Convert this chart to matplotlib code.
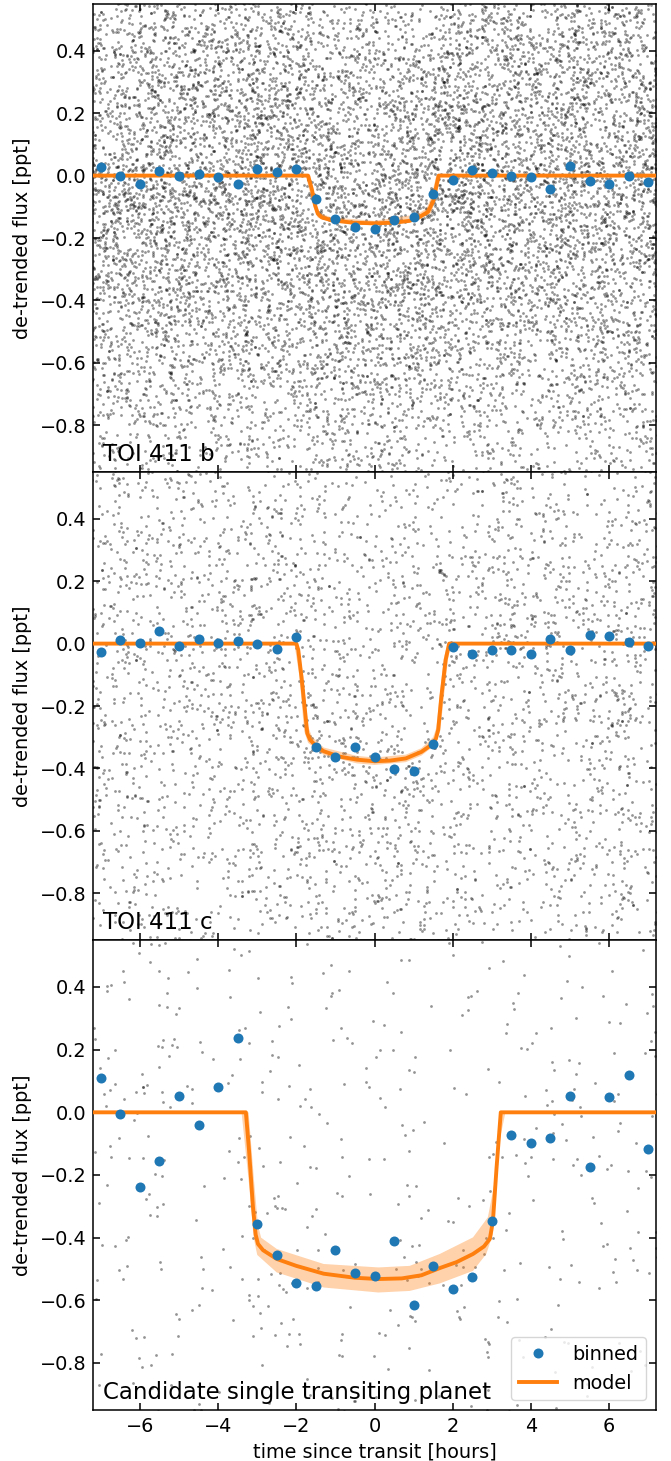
import numpy as np
import matplotlib
matplotlib.use("Agg")
import matplotlib.pyplot as plt
from matplotlib.lines import Line2D

# ---------------------------------------------------------------------------
# Binned light-curve points (time since transit in hours, flux in ppt)
# ---------------------------------------------------------------------------
bin_time = [-7.0, -6.5, -6.0, -5.5, -5.0, -4.5, -4.0, -3.5, -3.0, -2.5,
            -2.0, -1.5, -1.0, -0.5, 0.0, 0.5, 1.0, 1.5, 2.0, 2.5,
            3.0, 3.5, 4.0, 4.5, 5.0, 5.5, 6.0, 6.5, 7.0]

binned_b = [0.027, 0.000, -0.027, 0.015, -0.002, 0.004, -0.006, -0.026, 0.022, 0.012,
            0.020, -0.076, -0.139, -0.164, -0.170, -0.142, -0.133, -0.058, -0.014, 0.018,
            0.008, 0.000, -0.003, -0.042, 0.030, -0.017, -0.028, -0.002, -0.020]

binned_c = [-0.028, 0.011, 0.003, 0.040, -0.008, 0.016, 0.003, 0.009, -0.002, -0.017,
            0.020, -0.330, -0.365, -0.330, -0.362, -0.402, -0.408, -0.323, -0.011, -0.033,
            -0.020, -0.022, -0.033, 0.014, -0.022, 0.029, 0.024, 0.005, -0.009]

binned_single = [0.109, -0.005, -0.237, -0.154, 0.053, -0.040, 0.081, 0.236, -0.357, -0.455,
                 -0.545, -0.554, -0.440, -0.514, -0.523, -0.411, -0.615, -0.491, -0.564, -0.527,
                 -0.348, -0.072, -0.097, -0.082, 0.052, -0.173, 0.049, 0.120, -0.117]

# ---------------------------------------------------------------------------
# Transit models (median curve) and their credible bands
# ---------------------------------------------------------------------------
model_b_t = [-7.2, -1.70, -1.60, -1.52, -1.45, -1.35, -1.10, -0.55, 0.0, 0.5, 0.9, 1.16,
             1.37, 1.50, 1.59, 1.64, 7.2]
model_b_f = [0.0, 0.0, -0.045, -0.095, -0.122, -0.134, -0.143, -0.151, -0.153, -0.151, -0.145, -0.132,
             -0.116, -0.082, -0.029, 0.0, 0.0]

band_b_lo_t = [-7.2, -1.76, -1.56, -1.45, -1.10, 0.0, 1.16, 1.45, 1.56, 1.70, 7.2]
band_b_lo_f = [0.0, 0.0, -0.100, -0.135, -0.150, -0.160, -0.140, -0.120, -0.080, 0.0, 0.0]
band_b_hi_t = [-7.2, -1.64, -1.50, -1.40, -1.10, 0.0, 1.10, 1.33, 1.45, 1.58, 7.2]
band_b_hi_f = [0.0, 0.0, -0.090, -0.120, -0.134, -0.145, -0.124, -0.105, -0.070, 0.0, 0.0]

model_c_t = [-7.2, -2.00, -1.95, -1.87, -1.78, -1.72, -1.65, -1.50, -1.30, -0.90, -0.45, 0.0,
             0.40, 0.80, 1.20, 1.45, 1.57, 1.63, 1.71, 1.82, 1.91, 7.2]
model_c_f = [0.0, 0.0, -0.020, -0.105, -0.212, -0.287, -0.308, -0.328, -0.345, -0.362, -0.372, -0.377,
             -0.375, -0.368, -0.347, -0.325, -0.305, -0.276, -0.169, -0.052, 0.0, 0.0]

band_c_lo_t = [-7.2, -2.05, -1.92, -1.80, -1.70, -1.30, -0.45, 0.0, 0.80, 1.20, 1.55, 1.68, 1.88, 1.96, 7.2]
band_c_lo_f = [0.0, 0.0, -0.105, -0.280, -0.318, -0.357, -0.384, -0.389, -0.380, -0.359, -0.325, -0.280, -0.050, 0.0, 0.0]
band_c_hi_t = [-7.2, -1.95, -1.82, -1.70, -1.60, -1.30, -0.45, 0.0, 0.80, 1.20, 1.50, 1.58, 1.77, 1.86, 7.2]
band_c_hi_f = [0.0, 0.0, -0.105, -0.265, -0.298, -0.333, -0.360, -0.365, -0.356, -0.335, -0.300, -0.270, -0.050, 0.0, 0.0]

model_s_t = [-7.2, -3.29, -3.21, -3.11, -3.04, -2.98, -2.85, -2.50, -2.00, -1.30, -0.50, 0.10,
             0.70, 1.20, 1.67, 2.10, 2.52, 2.80, 2.95, 3.03, 3.12, 3.23, 7.2]
model_s_f = [0.0, 0.0, -0.120, -0.300, -0.390, -0.420, -0.440, -0.468, -0.490, -0.515, -0.528, -0.532,
             -0.530, -0.520, -0.497, -0.478, -0.452, -0.428, -0.404, -0.346, -0.180, 0.0, 0.0]

band_s_lo_t = [-7.2, -3.40, -3.21, -3.09, -3.00, -2.50, -1.30, 0.10, 0.90, 1.67, 2.52, 2.86, 3.03, 3.20, 3.35, 7.2]
band_s_lo_f = [0.0, 0.0, -0.228, -0.400, -0.455, -0.511, -0.559, -0.575, -0.570, -0.546, -0.506, -0.452, -0.388, -0.090, 0.0, 0.0]
band_s_hi_t = [-7.2, -3.22, -3.08, -2.98, -2.90, -2.50, -1.30, 0.10, 0.90, 1.67, 2.52, 2.90, 3.08, 3.20, 7.2]
band_s_hi_f = [0.0, 0.0, -0.220, -0.360, -0.400, -0.436, -0.484, -0.495, -0.490, -0.452, -0.399, -0.335, -0.218, 0.0, 0.0]

panel_names = ["TOI 411 b", "TOI 411 c", "Candidate single transiting planet"]
y_ticks = [-0.8, -0.6, -0.4, -0.2, 0.0, 0.2, 0.4]
x_ticks = [-6, -4, -2, 0, 2, 4, 6]

# Unbinned photometry: number of exposures and per-point scatter (ppt)
raw_count = [14000, 5500, 850]
raw_sigma = [0.56, 0.80, 0.95]

panels = [
    (binned_b, model_b_t, model_b_f, band_b_lo_t, band_b_lo_f, band_b_hi_t, band_b_hi_f),
    (binned_c, model_c_t, model_c_f, band_c_lo_t, band_c_lo_f, band_c_hi_t, band_c_hi_f),
    (binned_single, model_s_t, model_s_f, band_s_lo_t, band_s_lo_f, band_s_hi_t, band_s_hi_f),
]

FS = 13.9

W, H = 671, 1461
fig = plt.figure(figsize=(W / 100, H / 100), dpi=100)

left = 93 / W
width = (656 - 93) / W
tops = [4, 472, 940]
bottoms = [472, 940, 1410]

rng = np.random.default_rng(411)
axes = []
for i, (binned, mt, mf, blt, blf, bht, bhf) in enumerate(panels):
    y0 = 1 - bottoms[i] / H
    h = (bottoms[i] - tops[i]) / H
    ax = fig.add_axes([left, y0, width, h])
    axes.append(ax)
    for sp in ax.spines.values():
        sp.set_linewidth(1.1)

    # raw photometry cloud around the model
    t_raw = rng.uniform(-7.3, 7.3, raw_count[i])
    f_raw = np.interp(t_raw, mt, mf) + rng.normal(0.0, raw_sigma[i], raw_count[i])
    ax.plot(t_raw, f_raw, "o", color="k", alpha=0.42, ms=2.0, mew=0, zorder=1,
            rasterized=True)

    # credible band of the transit model
    poly_t = np.concatenate([blt, bht[::-1]])
    poly_f = np.concatenate([blf, bhf[::-1]])
    ax.fill(poly_t, poly_f, color="C1", alpha=0.35, lw=0, zorder=2)

    ax.plot(mt, mf, color="C1", lw=2.8, zorder=3)
    ax.plot(bin_time, binned, "o", color="C0", ms=7.2, mew=0, zorder=4)

    ax.set_xlim(-7.2, 7.2)
    ax.set_ylim(-0.95, 0.55)
    ax.set_yticks(y_ticks)
    ax.set_xticks(x_ticks)
    ax.tick_params(direction="in", top=True, right=True, labelsize=FS,
                   length=4.9, width=1.1, pad=4.9)
    ax.set_ylabel("de-trended flux [ppt]", fontsize=FS, labelpad=5)
    ax.text(0.017, 0.012, panel_names[i], transform=ax.transAxes,
            fontsize=16.5, ha="left", va="bottom", zorder=5)
    if i < 2:
        ax.tick_params(labelbottom=False)

axes[-1].set_xlabel("time since transit [hours]", fontsize=FS, labelpad=5)

handles = [
    Line2D([], [], ls="none", marker="o", color="C0", ms=7.2, mew=0),
    Line2D([], [], color="C1", lw=2.8),
]
axes[-1].legend(handles, ["binned", "model"], loc="lower right", fontsize=FS,
                framealpha=0.8)

fig.savefig("out.png", dpi=100)
